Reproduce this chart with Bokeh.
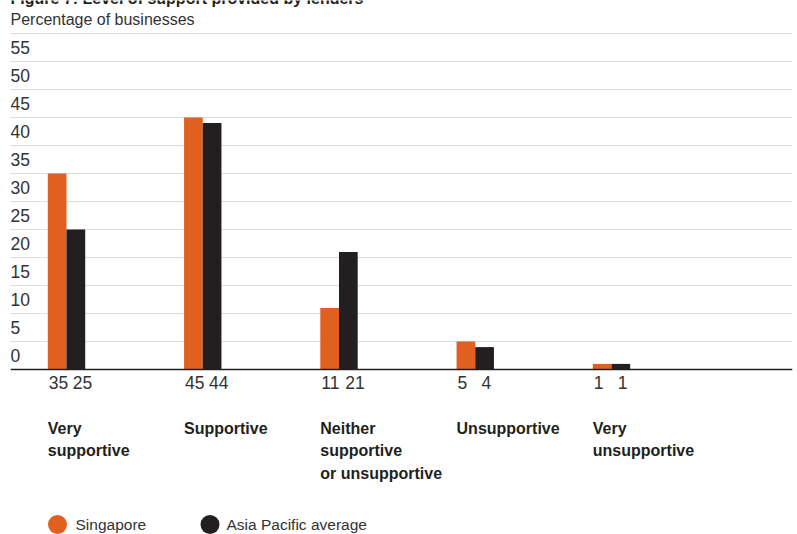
from bokeh.plotting import figure
from bokeh.models import Range1d, Grid, FixedTicker, Span, ColumnDataSource
from bokeh.core.properties import value
from bokeh.embed import file_html
from bokeh.resources import INLINE

# ---- data ----
categories = ["Very\nsupportive", "Supportive", "Neither\nsupportive\nor unsupportive",
              "Unsupportive", "Very\nunsupportive"]
singapore = [35, 45, 11, 5, 1]
asia_pacific = [25, 44, 21, 4, 1]
y_ticks = [0, 5, 10, 15, 20, 25, 30, 35, 40, 45, 50, 55]
grid_ticks = [5, 10, 15, 20, 25, 30, 35, 40, 45, 50, 55, 60]
series_names = ["Singapore", "Asia Pacific average"]
title_text = "Figure 7: Level of support provided by lenders"
subtitle_text = "Percentage of businesses"

# ---- layout / style ----
W, H = 797, 534
ORANGE = "#E1601F"
BLACK = "#231F20"
TXT = "#333333"
FONT = "Liberation Sans"
G0_PX, GSTEP_PX = 66.0, 136.25      # pixel of group 0 centre, group spacing
BASE_PX, UNIT_PX = 369.0, 5.6       # pixel of y=0, pixels per unit
LEFT_PX, RIGHT_PX = 10, 792
BAR_W = 18.7 / GSTEP_PX


def xd(px):
    return (px - G0_PX) / GSTEP_PX


def yd(py):
    return (BASE_PX - py) / UNIT_PX


p = figure(width=W, height=H, output_backend="svg", toolbar_location=None,
           x_axis_type=None, y_axis_type=None,
           x_range=Range1d(xd(LEFT_PX), xd(RIGHT_PX)),
           y_range=Range1d(yd(H), yd(0)),
           min_border_left=LEFT_PX, min_border_right=W - RIGHT_PX,
           min_border_top=0, min_border_bottom=0)
p.outline_line_color = None
p.background_fill_color = "white"
p.border_fill_color = "white"
p.xgrid.visible = False
p.ygrid.visible = False

grid = Grid(dimension=1, ticker=FixedTicker(ticks=grid_ticks),
            grid_line_color="#DCDCDC", grid_line_width=1)
p.add_layout(grid)
p.add_layout(Span(location=0, dimension="width", line_color=BLACK, line_width=1.5))

idx = list(range(len(categories)))
src = ColumnDataSource(dict(
    x=idx,
    xs=[i - BAR_W / 2 for i in idx],
    xa=[i + BAR_W / 2 for i in idx],
    xl=[i - BAR_W for i in idx],
    sg=singapore, ap=asia_pacific,
    sgl=[str(v) for v in singapore], apl=[str(v) for v in asia_pacific],
    cat=categories,
))

p.vbar(x="xs", top="sg", width=BAR_W, bottom=0, source=src,
       fill_color=ORANGE, line_color=None)
p.vbar(x="xa", top="ap", width=BAR_W, bottom=0, source=src,
       fill_color=BLACK, line_color=None)

# value labels under bars (left-aligned from the orange bar's left edge)
for col, xoff in (("sgl", 1), ("apl", 25)):
    p.text(x="xl", y=0, text=col, source=src, text_align="left",
           text_baseline="middle", x_offset=xoff, y_offset=13,
           text_font=value(FONT), text_font_size="17.5px", text_color=TXT)

# category labels
p.text(x="xl", y=0, text="cat", source=src, text_align="left",
       text_baseline="top", y_offset=50, text_font=value(FONT),
       text_font_size="16px", text_font_style="bold", text_color=BLACK,
       text_line_height=1.35)

# y tick labels
p.text(x=[xd(LEFT_PX)] * len(y_ticks), y=y_ticks, text=[str(t) for t in y_ticks],
       text_align="left", text_baseline="middle", y_offset=-14,
       text_font=value(FONT), text_font_size="17.5px", text_color=TXT)

# title / subtitle
p.text(x=[xd(LEFT_PX)], y=[yd(-2)], text=[title_text], text_align="left",
       text_baseline="middle", text_font=value(FONT), text_font_size="16px",
       text_font_style="bold", text_color=BLACK)
p.text(x=[xd(LEFT_PX)], y=[yd(19)], text=[subtitle_text], text_align="left",
       text_baseline="middle", text_font=value(FONT), text_font_size="16px",
       text_color=TXT)

# legend
leg_dot_px = [57, 209.5]
leg_txt_px = [75, 226]
p.scatter(x=[xd(v) for v in leg_dot_px], y=[yd(524)] * 2, size=19,
          fill_color=[ORANGE, BLACK], line_color=None, marker="circle")
p.text(x=[xd(v) for v in leg_txt_px], y=[yd(524)] * 2, text=series_names,
       text_align="left", text_baseline="middle", text_font=value(FONT),
       text_font_size="15.5px", text_color=TXT)

open("out.html", "w").write(file_html(p, INLINE))
